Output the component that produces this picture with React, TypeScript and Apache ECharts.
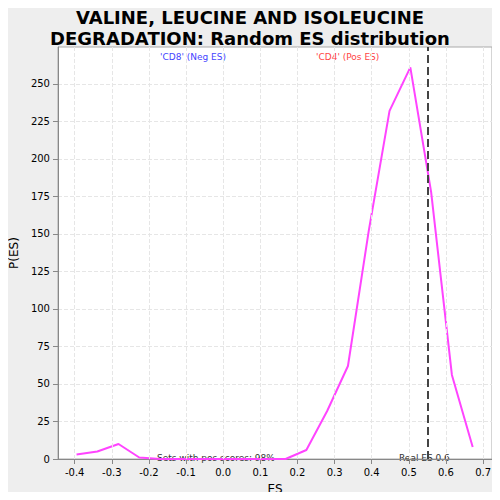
import { useEffect, useRef } from "react";
import * as echarts from "echarts";

const esValues = [-0.395, -0.339, -0.282, -0.226, -0.17, -0.114, -0.057, -0.001, 0.055, 0.111, 0.168, 0.224, 0.28, 0.336, 0.392, 0.448, 0.504, 0.56, 0.616, 0.672];
const density = [3, 5, 10, 1, 0, 0, 0, 0, 0, 0, 0, 6, 32, 62, 152, 232, 261, 178, 56, 8];
const realES = 0.553;
const xTicks = [-0.4, -0.3, -0.2, -0.1, 0, 0.1, 0.2, 0.3, 0.4, 0.5, 0.6, 0.7];
const yTicks = [0, 25, 50, 75, 100, 125, 150, 175, 200, 225, 250];

export default function App() {
  const ref = useRef<HTMLDivElement>(null);

  useEffect(() => {
    if (!ref.current) return;
    const chart = echarts.init(ref.current, undefined, { renderer: "svg" });
    const font = "DejaVu Sans";
    chart.setOption({
      animation: false,
      backgroundColor: "#eeeeee",
      textStyle: { fontFamily: font },
      title: {
        text: "VALINE, LEUCINE AND ISOLEUCINE\nDEGRADATION: Random ES distribution",
        left: "center",
        top: 2,
        textStyle: { fontSize: 18, fontWeight: "bold", color: "#000", lineHeight: 21, fontFamily: font },
      },
      grid: { left: 54, right: 8, top: 47, bottom: 40, backgroundColor: "#fff", show: true, borderColor: "#aaa" },
      xAxis: {
        type: "value",
        min: -0.445,
        max: 0.724,
        name: "ES",
        nameLocation: "middle",
        nameGap: 24,
        nameTextStyle: { fontSize: 12, color: "#000" },
        axisLine: { onZero: false, lineStyle: { color: "#888" } },
        axisTick: { lineStyle: { color: "#888" }, customValues: xTicks },
        axisLabel: {
          color: "#000",
          fontSize: 10,
          customValues: xTicks,
          formatter: (v: number) => v.toFixed(1),
        },
        splitLine: { show: false },
      },
      yAxis: {
        type: "value",
        min: 0,
        max: 274.6,
        interval: 25,
        name: "P(ES)",
        nameLocation: "middle",
        nameGap: 34,
        nameTextStyle: { fontSize: 12, color: "#000" },
        axisLine: { show: true, onZero: false, lineStyle: { color: "#888" } },
        axisTick: { show: true, lineStyle: { color: "#888" }, customValues: yTicks },
        axisLabel: { color: "#000", fontSize: 10, customValues: yTicks },
        splitLine: { show: true, lineStyle: { color: "#e6e6e6", type: "dashed" } },
      },
      series: [
        {
          type: "line",
          data: [],
          markLine: {
            silent: true,
            symbol: "none",
            label: { show: false },
            lineStyle: { color: "#e6e6e6", type: "dashed", width: 1 },
            data: xTicks.map((x) => ({ xAxis: x })),
          },
        },
        {
          type: "line",
          data: esValues.map((x, i) => [x, density[i]]),
          showSymbol: false,
          lineStyle: { color: "#ff44ff", width: 2 },
          markLine: {
            silent: true,
            symbol: "none",
            label: { show: false },
            lineStyle: { color: "#444", type: "dashed", width: 2 },
            data: [{ xAxis: realES }],
          },
        },
      ],
      graphic: [
        { type: "text", left: 160, top: 52, style: { text: "'CD8' (Neg ES)", fill: "#4444ff", fontSize: 9, fontFamily: font } },
        { type: "text", left: 316, top: 52, style: { text: "'CD4' (Pos ES)", fill: "#ff4444", fontSize: 9, fontFamily: font } },
        { type: "text", left: 157, top: 453, style: { text: "Sets with pos scores: 98%", fill: "#333", fontSize: 9, fontFamily: font } },
        { type: "text", left: 399, top: 453, style: { text: "Real ES 0.6", fill: "#333", fontSize: 9, fontFamily: font } },
      ],
    });
    return () => chart.dispose();
  }, []);

  return <div ref={ref} style={{ width: 500, height: 500, margin: -8 }} />;
}
